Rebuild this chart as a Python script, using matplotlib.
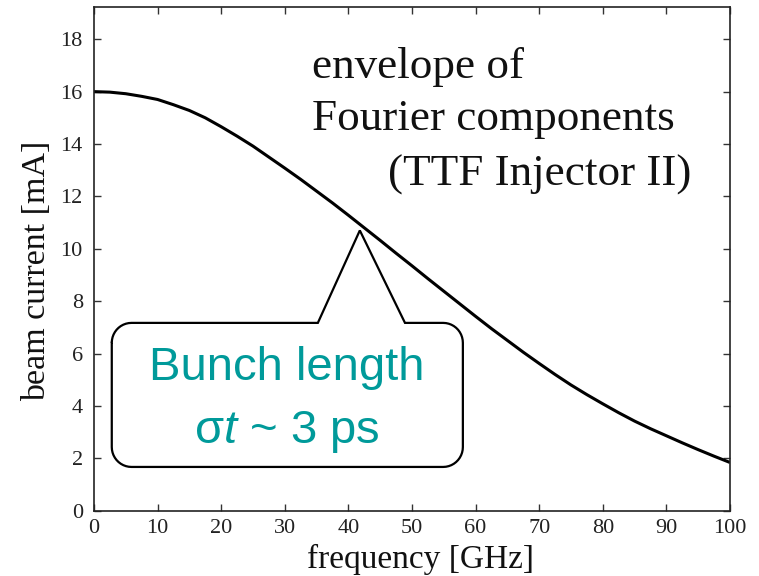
import matplotlib
matplotlib.use("Agg")
import matplotlib.pyplot as plt
import numpy as np
from matplotlib.path import Path
from matplotlib.patches import PathPatch

# ================= DATA =================
freq_ghz = [0, 2.5, 5, 7.5, 10, 12.5, 15, 17.5, 20, 22.5, 25, 27.5, 30, 32.5,
            35, 37.5, 40, 42.5, 45, 47.5, 50, 52.5, 55, 57.5, 60, 62.5, 65,
            67.5, 70, 72.5, 75, 77.5, 80, 82.5, 85, 87.5, 90, 92.5, 95, 97.5, 100]
beam_ma = [16.0, 15.98, 15.92, 15.82, 15.7, 15.5, 15.28, 15.0, 14.66, 14.3,
           13.92, 13.5, 13.08, 12.65, 12.2, 11.75, 11.28, 10.8, 10.32, 9.83,
           9.35, 8.86, 8.38, 7.9, 7.42, 6.95, 6.5, 6.05, 5.62, 5.2, 4.8, 4.43,
           4.08, 3.74, 3.42, 3.13, 2.86, 2.59, 2.33, 2.08, 1.84]

x_ticks = list(range(0, 101, 10))
y_ticks = list(range(0, 19, 2))

title_lines = ["envelope of", "Fourier components", "(TTF Injector II)"]
bubble_lines = ["Bunch length", "σ$t$ ~ 3 ps"]

TEAL = "#009a9a"

plt.rcParams["font.family"] = ["Liberation Serif", "DejaVu Serif"]
plt.rcParams["mathtext.fontset"] = "custom"
plt.rcParams["mathtext.it"] = "Liberation Sans:italic"
plt.rcParams["mathtext.rm"] = "Liberation Sans"

fig = plt.figure(figsize=(7.59, 5.76), dpi=100)
ax = fig.add_axes([0.1238, 0.1134, 0.838, 0.8744])

ax.plot(freq_ghz, beam_ma, color="black", lw=2.2, solid_capstyle="butt")

ax.set_xlim(0, 100)
ax.set_ylim(0, 19.23)
ax.set_xticks(x_ticks)
ax.set_yticks(y_ticks)
ax.tick_params(direction="in", top=True, right=True, length=5, width=1,
               labelsize=16, color="#333333", labelcolor="#222222")
ax.tick_params(axis="y", pad=8)
ax.tick_params(axis="x", pad=6)
for s in ax.spines.values():
    s.set_linewidth(1.2)
    s.set_color("#222222")

ax.set_xlabel("frequency [GHz]", fontsize=24, color="#111111")
ax.set_ylabel("beam current [mA]", fontsize=24.5, color="#111111")
ax.xaxis.set_label_coords(0.514, -0.066)
ax.yaxis.set_label_coords(-0.066, 0.476)

# annotation text in the upper right
ax.text(34.3, 16.52, title_lines[0], fontsize=32.5, va="baseline", ha="left", color="#111111")
ax.text(34.3, 14.53, title_lines[1], fontsize=32.5, va="baseline", ha="left", color="#111111")
ax.text(46.2, 12.43, title_lines[2], fontsize=32.5, va="baseline", ha="left", color="#111111")

# ================= SPEECH BUBBLE =================
x0, x1, y0, y1 = 2.8, 58.0, 1.67, 7.17
rx, ry = 3.1, 0.76
base_l, base_r = 35.2, 48.9
tip = (41.8, 10.7)


def arc(cx, cy, a0, a1, n=12):
    t = np.linspace(np.radians(a0), np.radians(a1), n)
    return list(zip(cx + rx * np.cos(t), cy + ry * np.sin(t)))


verts = [(x0 + rx, y1), (base_l, y1), tip, (base_r, y1), (x1 - rx, y1)]
verts += arc(x1 - rx, y1 - ry, 90, 0)
verts += [(x1, y0 + ry)]
verts += arc(x1 - rx, y0 + ry, 0, -90)
verts += [(x0 + rx, y0)]
verts += arc(x0 + rx, y0 + ry, 270, 180)
verts += [(x0, y1 - ry)]
verts += arc(x0 + rx, y1 - ry, 180, 90)
verts.append(verts[0])
codes = [Path.MOVETO] + [Path.LINETO] * (len(verts) - 2) + [Path.CLOSEPOLY]
bubble = PathPatch(Path(verts, codes), facecolor="white", edgecolor="black",
                   lw=1.6, joinstyle="miter", zorder=3)
ax.add_patch(bubble)

ax.text(30.3, 5.45, bubble_lines[0], fontsize=34, ha="center", va="center",
        color=TEAL, family="Liberation Sans", zorder=4)
ax.text(30.3, 3.02, bubble_lines[1], fontsize=34, ha="center", va="center",
        color=TEAL, family="Liberation Sans", zorder=4)

fig.savefig("out.png", dpi=100)
